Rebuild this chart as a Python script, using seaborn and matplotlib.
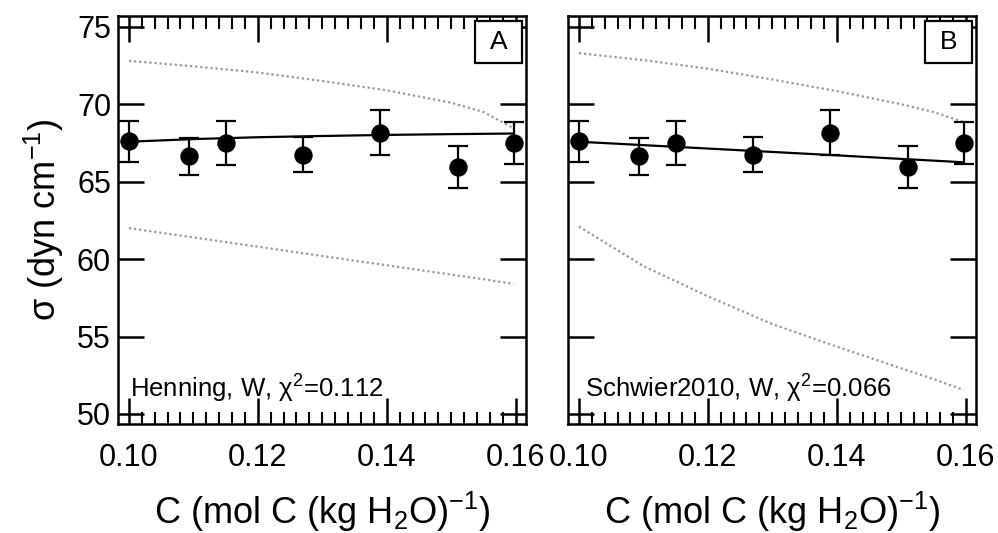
import matplotlib
matplotlib.use('Agg')
import matplotlib.pyplot as plt
import seaborn as sns
from matplotlib.ticker import MultipleLocator, FormatStrFormatter
from matplotlib.patches import Rectangle

# -----------------------------
# Measured surface tension
# -----------------------------
conc = [0.100, 0.1093, 0.1151, 0.1270, 0.1390, 0.1510, 0.1597]
sigma = [67.6, 66.65, 67.5, 66.75, 68.15, 65.95, 67.5]
sigma_err = [1.3, 1.2, 1.4, 1.15, 1.45, 1.37, 1.35]

# -----------------------------
# Model curves (fit and bounds)
# -----------------------------
model_c = [0.100, 0.110, 0.120, 0.130, 0.140, 0.150, 0.155, 0.1597]
fit_a = [67.58, 67.75, 67.87, 67.95, 68.02, 68.07, 68.09, 68.11]
upper_a = [72.8, 72.45, 72.05, 71.5, 70.9, 70.1, 69.5, 68.45]
lower_a = [62.0, 61.4, 60.8, 60.2, 59.6, 59.0, 58.7, 58.4]
fit_b = [67.58, 67.36, 67.14, 66.92, 66.7, 66.47, 66.36, 66.25]
upper_b = [73.3, 72.85, 72.3, 71.6, 70.85, 70.0, 69.5, 68.85]
lower_b = [62.1, 59.55, 57.6, 55.8, 54.35, 52.95, 52.25, 51.55]

panels = ['A', 'B']
notes = ['Henning, W, χ$^{2}$=0.112', 'Schwier2010, W, χ$^{2}$=0.066']

sns.set_style('ticks')
plt.rcParams['font.family'] = ['Liberation Sans', 'DejaVu Sans']
plt.rcParams.update({
    'mathtext.default': 'regular',
    'text.color': 'black',
    'axes.labelcolor': 'black',
    'axes.edgecolor': 'black',
    'xtick.color': 'black',
    'ytick.color': 'black',
    'xtick.direction': 'in',
    'ytick.direction': 'in',
    'xtick.top': True,
    'ytick.right': True,
    'xtick.minor.visible': True,
    'ytick.minor.visible': False,
    'xtick.major.size': 19,
    'ytick.major.size': 19,
    'xtick.minor.size': 9,
    'xtick.major.width': 1.8,
    'ytick.major.width': 1.8,
    'xtick.minor.width': 1.5,
    'axes.linewidth': 1.8,
})

fig = plt.figure(figsize=(9.98, 5.33), dpi=100)
ax_a = fig.add_axes([0.1182, 0.2045, 0.4088, 0.7655])
ax_b = fig.add_axes([0.5691, 0.2045, 0.4088, 0.7655])

curves = [(fit_a, upper_a, lower_a), (fit_b, upper_b, lower_b)]
for i, ax in enumerate([ax_a, ax_b]):
    fit, up, lo = curves[i]
    for bound in (up, lo):
        sns.lineplot(x=model_c, y=bound, ax=ax, color='#999999', lw=1.6,
                     linestyle=(0, (1, 1.3)), estimator=None)
    sns.lineplot(x=model_c, y=fit, ax=ax, color='black', lw=1.6, estimator=None)
    ax.errorbar(conc, sigma, yerr=sigma_err, fmt='none', ecolor='black',
                elinewidth=1.6, capsize=7, capthick=1.6, zorder=3)
    sns.scatterplot(x=conc, y=sigma, ax=ax, color='black', s=150,
                    edgecolor='black', zorder=4)

    ax.set_xlim(0.0983, 0.1616)
    ax.set_ylim(49.35, 75.7)
    ax.xaxis.set_major_locator(MultipleLocator(0.02))
    ax.xaxis.set_minor_locator(MultipleLocator(0.002))
    ax.yaxis.set_major_locator(MultipleLocator(5))
    ax.xaxis.set_major_formatter(FormatStrFormatter('%.2f'))
    ax.tick_params(axis='x', which='major', labelsize=22, pad=14)
    ax.tick_params(axis='y', which='major', labelsize=22, pad=5)

    ax.set_xlabel('C (mol C (kg H$_2$O)$^{-1}$)', fontsize=26, labelpad=12)
    ax.add_patch(Rectangle((0.875, 0.885), 0.115, 0.103, transform=ax.transAxes,
                           fc='white', ec='black', lw=1.6, zorder=5))
    ax.text(0.9326, 0.936, panels[i], transform=ax.transAxes, fontsize=19,
            ha='center', va='center', zorder=6)
    ax.text(0.029 if i == 0 else 0.042, 0.064, notes[i], transform=ax.transAxes,
            fontsize=18.5, ha='left', va='baseline')

ax_a.set_ylabel('σ (dyn cm$^{-1}$)', fontsize=26, labelpad=8)
ax_b.set_ylabel('')
ax_b.tick_params(axis='y', labelleft=False)

plt.savefig('out.png', dpi=100)
